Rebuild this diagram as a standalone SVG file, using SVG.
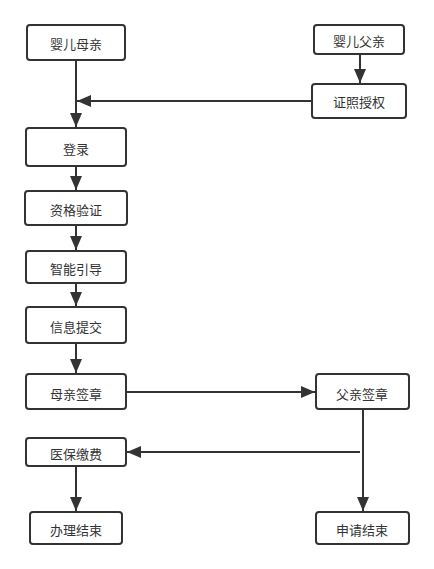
<svg xmlns="http://www.w3.org/2000/svg" width="434" height="569" viewBox="0 0 434 569">
<style>
.box{fill:#fff;stroke:#333;stroke-width:2}
.lbl{font-family:"Noto Sans CJK SC","Noto Sans",sans-serif;font-size:13px;fill:#333;text-anchor:middle;dominant-baseline:central}
.edge{fill:none;stroke:#333;stroke-width:2}
</style>
<defs>
<marker id="arr" markerUnits="userSpaceOnUse" markerWidth="15" markerHeight="12" refX="14" refY="6" orient="auto">
<path d="M0,0 L14,6 L0,12 z" fill="#333"/>
</marker>
</defs>
<rect width="434" height="569" fill="#fff"/>
<g id="connectors">
<path class="edge" d="M76,60 V127" marker-end="url(#arr)"/>
<path class="edge" d="M312,101 H77" marker-end="url(#arr)"/>
<path class="edge" d="M360,54 V83" marker-end="url(#arr)"/>
<path class="edge" d="M76,166 V190" marker-end="url(#arr)"/>
<path class="edge" d="M76,225 V250" marker-end="url(#arr)"/>
<path class="edge" d="M76,283 V306" marker-end="url(#arr)"/>
<path class="edge" d="M76,343 V373" marker-end="url(#arr)"/>
<path class="edge" d="M126,392 H315" marker-end="url(#arr)"/>
<path class="edge" d="M363,409 V511" marker-end="url(#arr)"/>
<path class="edge" d="M360,452 H127" marker-end="url(#arr)"/>
<path class="edge" d="M76,466 V511" marker-end="url(#arr)"/>
</g>
<g id="n1"><rect class="box" x="27" y="25" width="98" height="35" rx="3"/><text class="lbl" x="76" y="43">婴儿母亲</text></g>
<g id="n2"><rect class="box" x="314" y="25" width="90" height="29" rx="3"/><text class="lbl" x="359" y="40">婴儿父亲</text></g>
<g id="n3"><rect class="box" x="312" y="84" width="94" height="34" rx="3"/><text class="lbl" x="359" y="101">证照授权</text></g>
<g id="n4"><rect class="box" x="26" y="128" width="100" height="38" rx="3"/><text class="lbl" x="76" y="148">登录</text></g>
<g id="n5"><rect class="box" x="25" y="191" width="102" height="34" rx="3"/><text class="lbl" x="76" y="209">资格验证</text></g>
<g id="n6"><rect class="box" x="26" y="251" width="100" height="32" rx="3"/><text class="lbl" x="76" y="268">智能引导</text></g>
<g id="n7"><rect class="box" x="26" y="307" width="100" height="36" rx="3"/><text class="lbl" x="76" y="326">信息提交</text></g>
<g id="n8"><rect class="box" x="26" y="374" width="100" height="35" rx="3"/><text class="lbl" x="76" y="393">母亲签章</text></g>
<g id="n9"><rect class="box" x="316" y="374" width="93" height="35" rx="3"/><text class="lbl" x="362" y="393">父亲签章</text></g>
<g id="n10"><rect class="box" x="26" y="438" width="100" height="28" rx="3"/><text class="lbl" x="76" y="453">医保缴费</text></g>
<g id="n11"><rect class="box" x="30" y="512" width="92" height="32" rx="3"/><text class="lbl" x="76" y="529">办理结束</text></g>
<g id="n12"><rect class="box" x="316" y="512" width="93" height="32" rx="3"/><text class="lbl" x="362" y="529">申请结束</text></g>
</svg>
